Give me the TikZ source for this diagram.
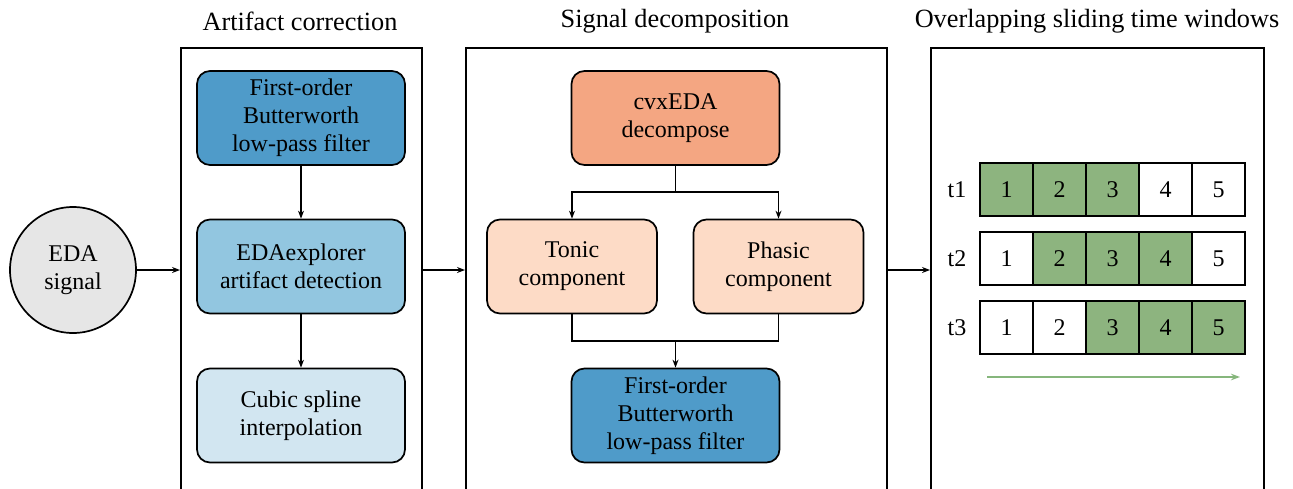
\documentclass[tikz,border=0pt]{standalone}
\usepackage{fontspec}
\setmainfont{Liberation Serif}
\usetikzlibrary{arrows.meta,positioning}
\definecolor{blueA}{HTML}{4F9BC9}
\definecolor{blueB}{HTML}{92C6E0}
\definecolor{blueC}{HTML}{D2E6F1}
\definecolor{orangeA}{HTML}{F4A682}
\definecolor{orangeB}{HTML}{FDDBC6}
\definecolor{cellgreen}{HTML}{8DB47F}
\definecolor{arrowgreen}{HTML}{86B67C}
\definecolor{circgray}{HTML}{E6E6E6}
\tikzset{
  stage/.style={draw, line width=1.9pt, minimum width=#1, minimum height=480pt, inner sep=0pt},
  title/.style={font=\rmfamily\fontsize{26.3}{28}\selectfont, inner sep=0pt},
  proc/.style={draw, line width=1.7pt, rounded corners=13pt, minimum width=208pt, minimum height=94pt, align=center, inner sep=0pt, font=\rmfamily\fontsize{24}{28}\selectfont},
  halfproc/.style={proc, minimum width=170pt},
  link/.style={line width=1.2pt, -{Stealth[length=8pt,width=6pt]}},
  cell/.style={draw, line width=1.7pt, minimum width=53pt, minimum height=53pt, inner sep=0pt, font=\rmfamily\fontsize{24}{28}\selectfont},
  rowlabel/.style={font=\rmfamily\fontsize{24}{28}\selectfont, inner sep=0pt}
}
\begin{document}
\begin{tikzpicture}[x=1pt,y=-1pt]
\useasboundingbox (0,0) rectangle (1293,488);
\clip (0,0) rectangle (1293,488);
\fill[white] (0,0) rectangle (1293,488);

% stage frames (extend below the picture)
\node[stage=241pt, anchor=north west] (box1) at (180,47) {};
\node[stage=421pt, anchor=north west] (box2) at (465,47) {};
\node[stage=333pt, anchor=north west] (box3) at (930,47) {};

\node[title] (t1title) at (300,21) {Artifact correction};
\node[title] (t2title) at (675,21) {Signal decomposition};
\node[title] (t3title) at (1097,21) {Overlapping sliding time windows};

% input
\node[circle, draw, line width=1.7pt, fill=circgray, minimum size=126pt, inner sep=0pt, align=center, font=\rmfamily\fontsize{24}{28}\selectfont] (eda) at (73,270) {EDA\\signal};

% artifact correction
\node[proc, fill=blueA] (bw1) at (301,118) {First-order\\Butterworth\\low-pass filter};
\node[proc, fill=blueB] (edax) at (301,266.5) {EDAexplorer\\artifact detection};
\node[proc, fill=blueC] (spline) at (301,415.5) {Cubic spline\\interpolation};

% decomposition
\node[proc, fill=orangeA] (cvx) at (675.5,118) {cvxEDA\\decompose};
\node[halfproc, fill=orangeB] (tonic) at (572,266.5) {Tonic\\component};
\node[halfproc, fill=orangeB] (phasic) at (778.5,266.5) {Phasic\\component};
\node[proc, fill=blueA] (bw2) at (675.5,415.5) {First-order\\Butterworth\\low-pass filter};

\coordinate (split) at (675.5,192);
\coordinate (merge) at (675.5,341);

% connectors
\draw[link] (eda.east) -- (eda.east -| box1.west);
\draw[link] (box1.east |- eda.east) -- (box2.west |- eda.east);
\draw[link] (box2.east |- eda.east) -- (box3.west |- eda.east);

\draw[link] (bw1) -- (edax);
\draw[link] (edax) -- (spline);

\draw[line width=1.3pt] (cvx.south) -- (split);
\draw[link, line width=1.3pt] (split) -| (tonic.north);
\draw[link, line width=1.3pt] (split) -| (phasic.north);
\draw[line width=1.3pt] (tonic.south) |- (merge) -| (phasic.south);
\draw[link, line width=1.3pt] (merge) -- (bw2.north);

% sliding windows
\foreach \r/\y/\a/\b in {1/189.5/1/3, 2/258.5/2/4, 3/327.5/3/5}{
  \node[rowlabel] (lab\r) at (957,\y) {t\r};
  \foreach \c in {1,...,5}{
    \pgfmathtruncatemacro{\ison}{(\c>=\a) && (\c<=\b) ? 1 : 0}
    \ifnum\ison=1
      \node[cell, fill=cellgreen] (c\r\c) at ({953.5+53*\c},\y) {\c};
    \else
      \node[cell, fill=white] (c\r\c) at ({953.5+53*\c},\y) {\c};
    \fi
  }
}
\coordinate (gs) at (987,377);
\coordinate (ge) at (1240,377);
\draw[line width=1.8pt, arrowgreen, -{Stealth[length=9pt,width=6.5pt]}] (gs) -- (ge);
\end{tikzpicture}
\end{document}
